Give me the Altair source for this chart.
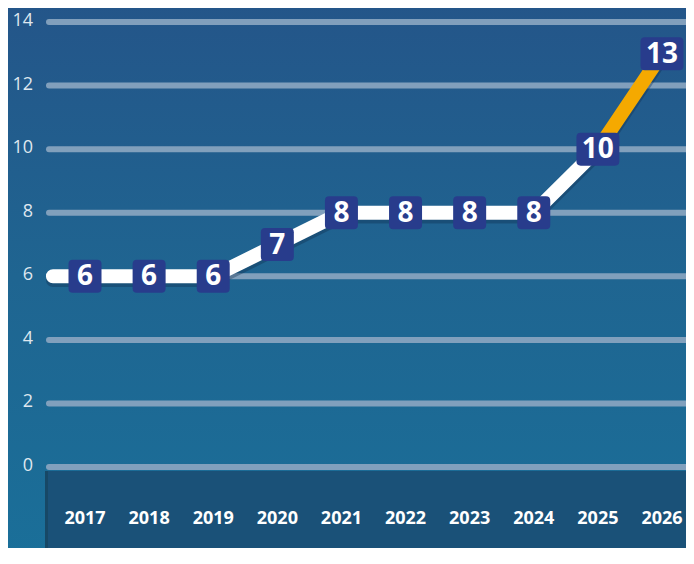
import altair as alt
import pandas as pd

# ---- data ----
years = [2017, 2018, 2019, 2020, 2021, 2022, 2023, 2024, 2025, 2026]
values = [6, 6, 6, 7, 8, 8, 8, 8, 10, 13]
y_ticks = [0, 2, 4, 6, 8, 10, 12, 14]
forecast_from = 2025  # last segment drawn in orange
line_start_year = 2016.5  # line runs in from the left edge

W, H = 641, 540
PX_PER_YEAR = 64.11
x_lo = 2017 - 40 / PX_PER_YEAR
x_scale = alt.Scale(domain=[x_lo, x_lo + W / PX_PER_YEAR], nice=False, zero=False)
y_scale = alt.Scale(domain=[14.44 - H / 31.79, 14.44], nice=False, zero=False)

# tables
pts = pd.DataFrame({"year": years, "value": values})
pts["label"] = pts["value"].astype(str)
pts["shp"] = [
    "M -0.74,-1 L 0.74,-1 Q 1,-1 1,-0.74 L 1,0.74 Q 1,1 0.74,1 L -0.74,1 Q -1,1 -1,0.74 L -1,-0.74 Q -1,-1 -0.74,-1 Z"
    if len(s) == 1 else
    "M -1.04,-1 L 1.04,-1 Q 1.3,-1 1.3,-0.74 L 1.3,0.74 Q 1.3,1 1.04,1 L -1.04,1 Q -1.3,1 -1.3,0.74 L -1.3,-0.74 Q -1.3,-1 -1.04,-1 Z"
    for s in pts["label"]
]

hist = [(line_start_year, values[0])] + [(y, v) for y, v in zip(years, values) if y <= forecast_from]
fc = [(y, v) for y, v in zip(years, values) if y >= forecast_from]
line_df = pd.DataFrame(
    [{"year": y, "value": v, "seg": "hist", "col": "#ffffff"} for y, v in hist]
    + [{"year": y, "value": v, "seg": "fc", "col": "#f5a900"} for y, v in fc]
)
grid_df = pd.DataFrame({"tick": y_ticks})
xlab_df = pd.DataFrame({"year": years, "txt": [str(y) for y in years]})

X = alt.X("year:Q", scale=x_scale, axis=None)

bg = alt.Chart(pd.DataFrame({"a": [0]})).mark_rect(
    fill=alt.Gradient(
        gradient="linear",
        stops=[alt.GradientStop(color="#245589", offset=0),
               alt.GradientStop(color="#1f6591", offset=0.5),
               alt.GradientStop(color="#1a6f99", offset=1)],
        x1=0, x2=0, y1=0, y2=1,
    )
).encode(x=alt.value(-40), x2=alt.value(W + 10), y=alt.value(-10), y2=alt.value(H + 10))

band = alt.Chart(pd.DataFrame({"a": [0]})).mark_rect(fill="#1a5178").encode(
    x=alt.value(0), x2=alt.value(W + 10), y=alt.value(463), y2=alt.value(H + 10)
)
band_edge = alt.Chart(pd.DataFrame({"a": [0]})).mark_rect(fill="#174866").encode(
    x=alt.value(0), x2=alt.value(3), y=alt.value(463), y2=alt.value(H + 10)
)

grid = alt.Chart(grid_df).mark_rule(
    color="#87a3bf", strokeWidth=6, strokeCap="round", opacity=0.95
).encode(
    x=alt.value(4), x2=alt.value(W + 20),
    y=alt.Y("tick:Q", scale=y_scale, axis=None),
)

ylabels = alt.Chart(grid_df).mark_text(
    align="right", baseline="middle", font="Open Sans", fontSize=18,
    color="#dfe7ef", dy=-1,
).encode(
    x=alt.value(-12),
    y=alt.Y("tick:Q", scale=y_scale, axis=None),
    text=alt.Text("tick:Q"),
)

xlabels = alt.Chart(xlab_df).mark_text(
    align="center", baseline="middle", font="Open Sans", fontSize=18,
    fontWeight="bold", color="#ffffff",
).encode(x=X, y=alt.value(511), text="txt:N")

shadow = alt.Chart(line_df).transform_calculate(
    ys="datum.value - 0.12"
).mark_line(
    strokeWidth=14, strokeCap="round", strokeJoin="round", color="#0d2a4a", opacity=0.35
).encode(
    x=X, y=alt.Y("ys:Q", scale=y_scale, axis=None), detail="seg:N",
)

line = alt.Chart(line_df).mark_line(
    strokeWidth=14, strokeCap="round", strokeJoin="round"
).encode(
    x=X, y=alt.Y("value:Q", scale=y_scale, axis=None),
    detail="seg:N", color=alt.Color("col:N", scale=None),
)

boxes = alt.Chart(pts).mark_point(
    filled=True, fill="#283c8c", opacity=1, strokeWidth=0, size=1089
).encode(
    x=X, y=alt.Y("value:Q", scale=y_scale, axis=None),
    shape=alt.Shape("shp:N", scale=None),
)

labels = alt.Chart(pts).mark_text(
    align="center", baseline="middle", font="Open Sans", fontSize=28,
    fontWeight="bold", color="#ffffff", dy=1,
).encode(
    x=X, y=alt.Y("value:Q", scale=y_scale, axis=None), text="label:N",
)

chart = alt.layer(
    bg, band, band_edge, grid, ylabels, xlabels, shadow, line, boxes, labels
).properties(
    width=W, height=H,
    autosize=alt.AutoSizeParams(type="none"),
    padding={"left": 37, "top": 0, "right": 0, "bottom": 0},
    background="#21608f",
).configure_view(strokeWidth=0, clip=False)

chart.save("out.html", embed_options={"renderer": "svg", "actions": False})
